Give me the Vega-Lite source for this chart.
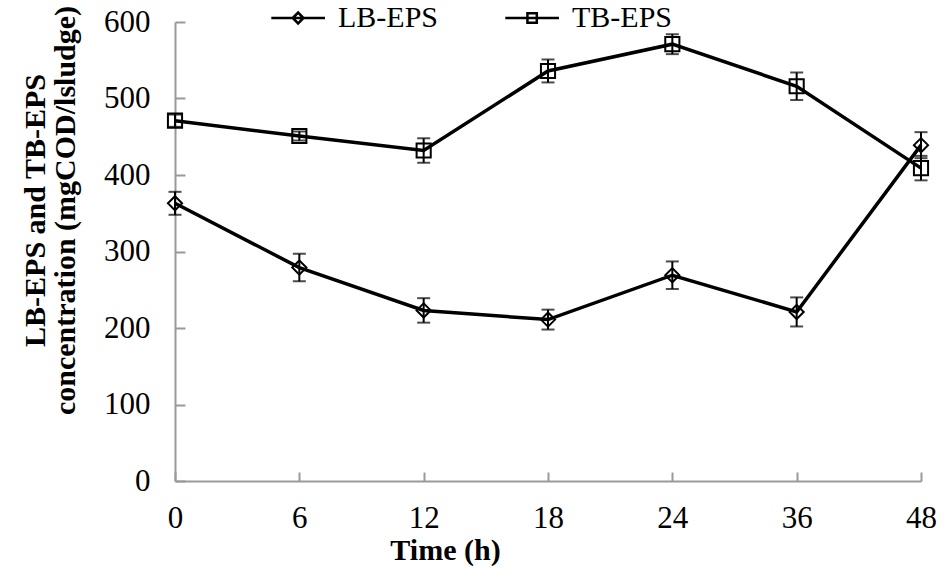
{
  "$schema": "https://vega.github.io/schema/vega-lite/v6.json",
  "width": 746,
  "height": 459,
  "autosize": "none",
  "padding": {"left": 175, "top": 22, "right": 21, "bottom": 87},
  "background": "white",
  "config": {
    "view": {"stroke": null},
    "font": "Liberation Serif",
    "axis": {
      "grid": false,
      "domainColor": "#999999",
      "domainWidth": 2,
      "tickColor": "#999999",
      "tickWidth": 2,
      "labelFont": "Liberation Serif",
      "labelFontSize": 31,
      "labelColor": "black",
      "titleFont": "Liberation Serif",
      "titleFontSize": 30,
      "titleFontWeight": "bold",
      "titleColor": "black"
    }
  },
  "data": {
    "values": [
      {"t": 0, "series": "LB-EPS", "v": 363, "err": 15},
      {"t": 6, "series": "LB-EPS", "v": 279, "err": 18},
      {"t": 12, "series": "LB-EPS", "v": 223, "err": 16},
      {"t": 18, "series": "LB-EPS", "v": 211, "err": 13},
      {"t": 24, "series": "LB-EPS", "v": 269, "err": 18},
      {"t": 36, "series": "LB-EPS", "v": 221, "err": 19},
      {"t": 48, "series": "LB-EPS", "v": 439, "err": 17},
      {"t": 0, "series": "TB-EPS", "v": 471, "err": 8},
      {"t": 6, "series": "TB-EPS", "v": 451, "err": 6},
      {"t": 12, "series": "TB-EPS", "v": 432, "err": 16},
      {"t": 18, "series": "TB-EPS", "v": 536, "err": 15},
      {"t": 24, "series": "TB-EPS", "v": 571, "err": 13},
      {"t": 36, "series": "TB-EPS", "v": 516, "err": 18},
      {"t": 48, "series": "TB-EPS", "v": 409, "err": 16}
    ]
  },
  "resolve": {"scale": {"shape": "independent"}, "legend": {"shape": "independent"}},
  "encoding": {
    "x": {
      "field": "t",
      "type": "ordinal",
      "scale": {"type": "point", "padding": 0},
      "axis": {
        "title": "Time (h)",
        "labelAngle": 0,
        "tickSize": -9,
        "labelPadding": 31,
        "titleX": 270,
        "titleY": 69,
        "titleAlign": "center",
        "titleBaseline": "middle",
        "titleFontSize": 30
      }
    },
    "y": {
      "field": "v",
      "type": "quantitative",
      "scale": {"domain": [0, 600], "nice": false},
      "axis": {
        "values": [0, 100, 200, 300, 400, 500, 600],
        "tickSize": -10,
        "labelPadding": 35,
        "title": ["LB-EPS and TB-EPS", "concentration (mgCOD/lsludge)"],
        "titleX": -140,
        "titleY": 188,
        "titleAlign": "center",
        "titleBaseline": "middle",
        "titleAngle": -90,
        "titleLineHeight": 30
      }
    }
  },
  "layer": [
    {
      "mark": {"type": "line", "color": "black", "strokeWidth": 3.5},
      "encoding": {
        "detail": {"field": "series"}
      }
    },
    {
      "mark": {
        "type": "errorbar",
        "ticks": {"size": 13, "thickness": 2, "color": "black"},
        "rule": {"strokeWidth": 2, "color": "black"},
        "color": "black"
      },
      "encoding": {
        "yError": {"field": "err"},
        "detail": {"field": "series"}
      }
    },
    {
      "mark": {"type": "point", "filled": false, "stroke": "black", "strokeWidth": 2, "size": 200, "opacity": 1},
      "encoding": {
        "shape": {
          "field": "series",
          "type": "nominal",
          "scale": {"domain": ["LB-EPS", "TB-EPS"], "range": ["diamond", "square"]},
          "legend": null
        }
      }
    },
    {
      "transform": [{"filter": "false"}],
      "mark": {"type": "point", "filled": false, "stroke": "black", "strokeWidth": 2.5, "opacity": 1},
      "encoding": {
        "shape": {
          "field": "series",
          "type": "nominal",
          "scale": {"domain": ["LB-EPS", "TB-EPS"], "range": ["M-1,0H7M2.2,0L3,-0.8L3.8,0L3,0.8Z", "M-1,0H7M2.3,-0.7H3.7V0.7H2.3Z"]},
          "legend": {
            "title": null,
            "orient": "none",
            "direction": "horizontal",
            "legendX": 88,
            "legendY": -19,
            "padding": 0,
            "symbolSize": 180,
            "symbolStrokeWidth": 2.5,
            "symbolStrokeColor": "black",
            "symbolFillColor": "transparent",
            "labelOffset": 45,
            "columnPadding": 58,
            "labelFont": "Liberation Serif",
            "labelFontSize": 30,
            "labelColor": "black",
            "labelLimit": 400
          }
        }
      }
    }
  ]
}
